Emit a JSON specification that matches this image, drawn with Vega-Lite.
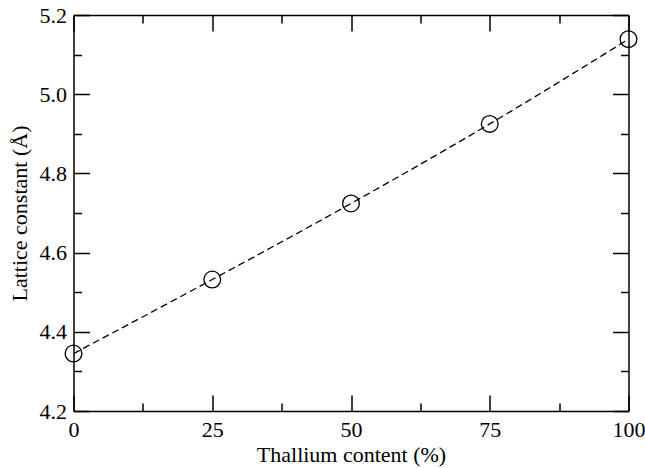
{
  "$schema": "https://vega.github.io/schema/vega-lite/v6.json",
  "width": 555,
  "height": 396,
  "autosize": "none",
  "padding": {"left": 73.5, "top": 15, "right": 16.5, "bottom": 57},
  "background": "white",
  "config": {
    "view": {"stroke": null},
    "font": "Liberation Serif",
    "axis": {
      "grid": false,
      "domainColor": "#000",
      "domainWidth": 1.5,
      "tickColor": "#000",
      "tickWidth": 1.5,
      "labelFont": "Liberation Serif",
      "labelFontSize": 22,
      "labelColor": "#000",
      "labelFlush": false,
      "labelOverlap": false,
      "titleFont": "Liberation Serif",
      "titleFontSize": 22,
      "titleFontWeight": "normal",
      "titleColor": "#000"
    }
  },
  "data": {
    "values": [
      {"tl": 0, "a": 4.345},
      {"tl": 25, "a": 4.532},
      {"tl": 50, "a": 4.724},
      {"tl": 75, "a": 4.925},
      {"tl": 100, "a": 5.139}
    ]
  },
  "layer": [
    {
      "mark": {"type": "line", "color": "#000", "strokeWidth": 1.3, "strokeDash": [7, 4], "interpolate": "monotone"},
      "encoding": {
        "x": {
          "field": "tl", "type": "quantitative",
          "scale": {"domain": [0, 100], "nice": false, "zero": false},
          "axis": {
            "orient": "bottom",
            "title": "Thallium content (%)",
            "values": [0, 12.5, 25, 37.5, 50, 62.5, 75, 87.5, 100],
            "labelExpr": "datum.value % 25 === 0 ? datum.label : ''",
            "tickSize": {"condition": {"test": "datum.value % 25 === 0", "value": -16}, "value": -8},
            "labelPadding": 24,
            "titlePadding": -4
          }
        },
        "y": {
          "field": "a", "type": "quantitative",
          "scale": {"domain": [4.2, 5.2], "nice": false, "zero": false},
          "axis": {
            "orient": "left",
            "title": "Lattice constant (Å)",
            "format": ".1f",
            "values": [4.2, 4.3, 4.4, 4.5, 4.6, 4.7, 4.8, 4.9, 5.0, 5.1, 5.2],
            "labelExpr": "round(datum.value * 10) % 2 === 0 ? datum.label : ''",
            "tickSize": {"condition": {"test": "round(datum.value * 10) % 2 === 0", "value": -16}, "value": -8},
            "labelPadding": 23,
            "titlePadding": 8
          }
        }
      }
    },
    {
      "mark": {"type": "point", "shape": "circle", "filled": false, "color": "#000", "size": 280, "strokeWidth": 1.3, "opacity": 1},
      "encoding": {
        "x": {
          "field": "tl", "type": "quantitative",
          "scale": {"domain": [0, 100], "nice": false, "zero": false},
          "axis": {
            "orient": "top",
            "title": null,
            "labels": false,
            "values": [0, 12.5, 25, 37.5, 50, 62.5, 75, 87.5, 100],
            "tickSize": {"condition": {"test": "datum.value % 25 === 0", "value": -16}, "value": -8}
          }
        },
        "y": {
          "field": "a", "type": "quantitative",
          "scale": {"domain": [4.2, 5.2], "nice": false, "zero": false},
          "axis": {
            "orient": "right",
            "title": null,
            "labels": false,
            "values": [4.2, 4.3, 4.4, 4.5, 4.6, 4.7, 4.8, 4.9, 5.0, 5.1, 5.2],
            "tickSize": {"condition": {"test": "round(datum.value * 10) % 2 === 0", "value": -16}, "value": -8}
          }
        }
      }
    }
  ],
  "resolve": {"axis": {"x": "independent", "y": "independent"}}
}
